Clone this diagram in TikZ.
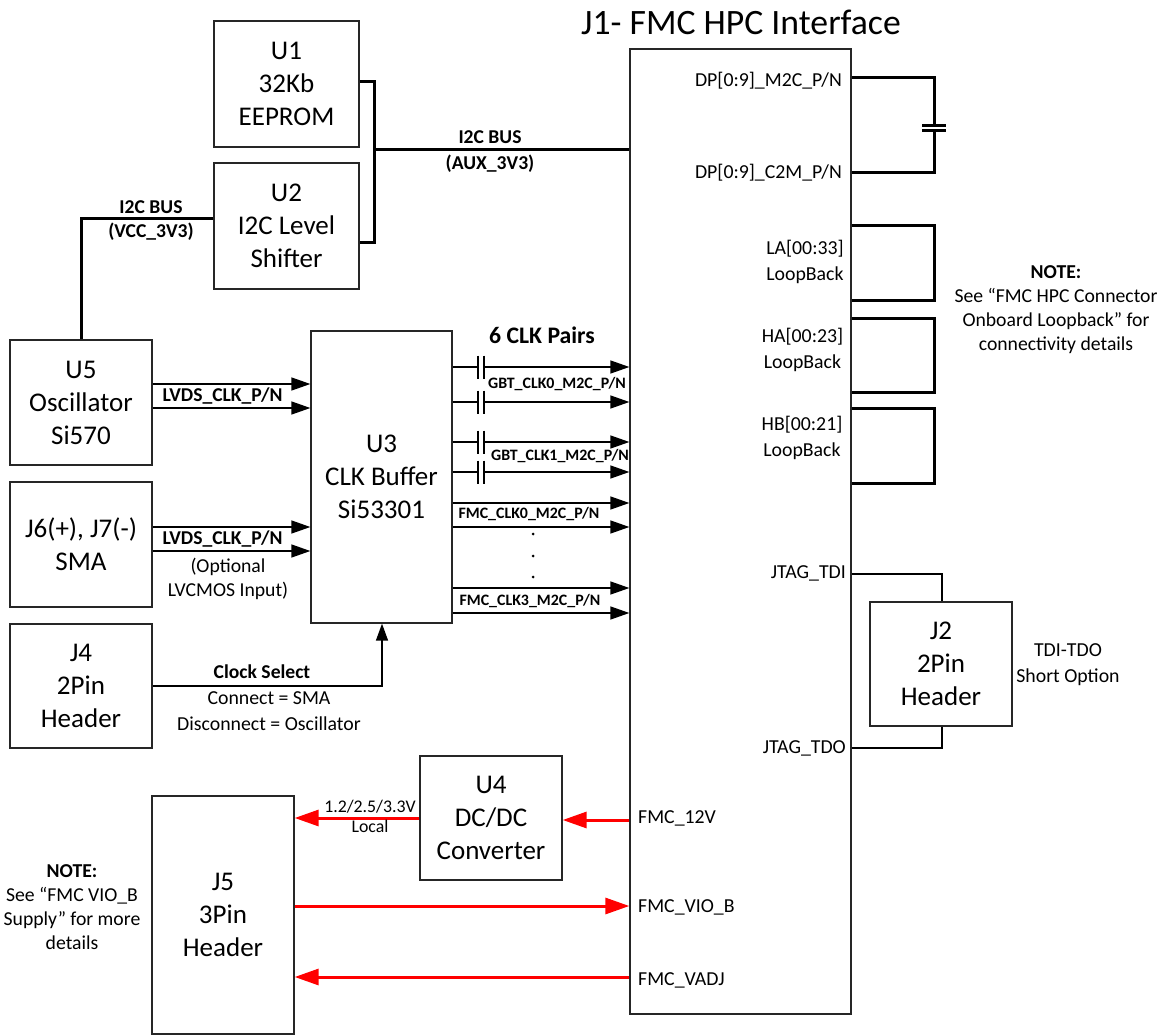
\documentclass[tikz,border=0pt]{standalone}
\usepackage{fontspec}
\setmainfont{Carlito}
\usetikzlibrary{arrows.meta}
\tikzset{
  box/.style={draw=black!85, line width=1.3pt, align=center, inner sep=0pt, font=\fontsize{27}{33}\selectfont},
  lbl/.style={inner sep=0pt, align=center, font=\fontsize{19.7}{24}\selectfont},
  pin/.style={inner sep=0pt, align=center, font=\fontsize{19.8}{26}\selectfont},
  tag/.style={inner sep=0pt, align=center, font=\fontsize{19.6}{19.6}\selectfont\bfseries},
  clktag/.style={inner sep=0pt, font=\fontsize{15.9}{15.9}\selectfont\bfseries},
  sig/.style={line width=1.4pt, -{Triangle[length=19pt, width=13pt]}},
  bus/.style={line width=3pt},
  pwr/.style={line width=3pt, red, -{Triangle[length=24pt, width=16pt]}},
  plate/.style={line width=1.4pt}
}
\begin{document}
\begin{tikzpicture}[x=1pt, y=-1pt]
    \useasboundingbox (0, 0) rectangle (1167, 1035);
    \node[box, minimum width=145pt, minimum height=126pt] (u1) at (286.5, 84) {U1\\32Kb\\EEPROM};
    \node[box, minimum width=145pt, minimum height=126pt] (u2) at (286.5, 226) {U2\\I2C Level\\Shifter};
    \node[box, minimum width=142pt, minimum height=125pt] (u5) at (81, 402.5) {U5\\Oscillator\\Si570};
    \node[box, minimum width=142pt, minimum height=125pt] (j6) at (81, 544.5) {J6(+), J7(-)\\SMA};
    \node[box, minimum width=142pt, minimum height=124pt] (j4) at (81, 686) {J4\\2Pin\\Header};
    \node[box, minimum width=141pt, minimum height=292pt] (u3) at (381.5, 477) {U3\\CLK Buffer\\Si53301};
    \node[box, minimum width=142pt, minimum height=124pt] (u4) at (491, 818) {U4\\DC/DC\\Converter};
    \node[box, minimum width=142pt, minimum height=238pt] (j5) at (223, 915) {J5\\3Pin\\Header};
    \node[box, minimum width=221pt, minimum height=965pt] (j1) at (740.5, 531.5) {};
    \node[box, minimum width=142pt, minimum height=124pt] (j2) at (941, 664) {J2\\2Pin\\Header};
    \node[inner sep=0pt, font=\fontsize{35.7}{35.7}\selectfont] (title) at (741, 22) {J1- FMC HPC Interface};

    % I2C buses
    \draw[bus] (u1.east |- 0, 82) -- (374, 82) -- (374, 242) -- (u2.east |- 0, 242);
    \draw[bus] (374, 150) -- (j1.west |- 0, 150);
    \draw[bus] (u5.north) |- (u2.west |- 0, 219);
    \node[tag] (auxbus) at (490, 152) {I2C BUS\\[6.4pt](AUX\_3V3)};
    \node[tag] (vccbus) at (151, 221) {I2C BUS\\[4.4pt](VCC\_3V3)};

    % clocks into the buffer
    \foreach \y in {384, 408} {
      \draw[sig] (u5.east |- 0, \y) -- (u3.west |- 0, \y);
      }
    \foreach \y in {527, 551} {
      \draw[sig] (j6.east |- 0, \y) -- (u3.west |- 0, \y);
      }
    \node[tag] (lvdsa) at (222.5, 396) {LVDS\_CLK\_P/N};
    \node[tag] (lvdsb) at (222.5, 539) {LVDS\_CLK\_P/N};
    \node[lbl] (lvcmos) at (228, 579) {(Optional\\LVCMOS Input)};
    \draw[line width=1.4pt, -{Triangle[length=17pt, width=12pt]}] (j4.east) -| (u3.south -| 382, 0);
    \node[tag] (clksel) at (262, 672) {Clock Select};
    \node[pin] (clkopt) at (269, 711) {Connect = SMA\\Disconnect = Oscillator};

    % clocks out of the buffer
    \foreach \y in {367, 402, 442, 472, 503, 527, 588, 613} {
      \draw[sig] (u3.east |- 0, \y) -- (j1.west |- 0, \y);
      }
    \foreach \y in {367, 402, 442, 472} {
      \fill[white] (478, \y-2) rectangle (484, \y+2);
      \draw[plate] (478, \y-11.5) -- (478, \y+11.5);
      \draw[plate] (484, \y-11.5) -- (484, \y+11.5);
      }
    \node[inner sep=0pt, font=\fontsize{23.7}{23.7}\selectfont\bfseries] (pairs) at (542, 335) {6 CLK Pairs};
    \node[clktag] (gbta) at (557, 384) {GBT\_CLK0\_M2C\_P/N};
    \node[clktag] (gbtb) at (560, 456) {GBT\_CLK1\_M2C\_P/N};
    \node[clktag] (fmca) at (529, 514) {FMC\_CLK0\_M2C\_P/N};
    \node[clktag] (fmcb) at (530, 601) {FMC\_CLK3\_M2C\_P/N};
    \foreach \y in {534, 556, 577} {
      \fill (533, \y) circle (1.5);
      }

    % pins of the connector
    \node[pin, anchor=east] (dpa) at (842, 81) {DP[0:9]\_M2C\_P/N};
    \node[pin, anchor=east] (dpb) at (842, 173) {DP[0:9]\_C2M\_P/N};
    \node[pin] (la) at (805, 262) {LA[00:33]\\LoopBack};
    \node[pin] (ha) at (802.5, 350) {HA[00:23]\\LoopBack};
    \node[pin] (hb) at (802, 438) {HB[00:21]\\LoopBack};
    \node[pin, anchor=east] (tdi) at (846, 573) {JTAG\_TDI};
    \node[pin, anchor=east] (tdo) at (846, 748) {JTAG\_TDO};
    \node[pin, anchor=west] (v12) at (638, 818) {FMC\_12V};
    \node[pin, anchor=west] (vio) at (638, 907) {FMC\_VIO\_B};
    \node[pin, anchor=west] (vadj) at (638, 980) {FMC\_VADJ};

    % loopbacks
    \draw[bus] (j1.east |- 0, 78) -- (934, 78) -- (934, 126);
    \draw[bus] (j1.east |- 0, 173) -- (934, 173) -- (934, 131);
    \draw[bus] (922, 126) -- (946, 126);
    \draw[bus] (922, 131) -- (946, 131);
    \foreach \a/\b in {226/300, 318/392, 408/483} {
      \draw[bus] (j1.east |- 0, \a) -- (934, \a) -- (934, \b) -- (j1.east |- 0, \b);
      }
    \draw[line width=1.3pt] (j1.east |- 0, 574) -| (j2.north -| 942, 0);
    \draw[line width=1.3pt] (j1.east |- 0, 748) -| (j2.south -| 942, 0);

    % power
    \draw[pwr] (u4.west) -- (j5.east |- u4.west);
    \draw[pwr] (j1.west |- 0, 820) -- (u4.east |- 0, 820);
    \draw[pwr] (j5.east |- 0, 906) -- (j1.west |- 0, 906);
    \draw[pwr] (j1.west |- 0, 977) -- (j5.east |- 0, 977);
    \node[inner sep=0pt, align=center, font=\fontsize{17.8}{20}\selectfont] (vlocal) at (370, 816) {1.2/2.5/3.3V\\Local};

    % notes
    \node[lbl] (noter) at (1056, 310) {\textbf{NOTE:}\\See “FMC HPC Connector\\Onboard Loopback” for\\connectivity details};
    \node[lbl] (notel) at (72, 907.5) {\textbf{NOTE:}\\See “FMC VIO\_B\\Supply” for more\\details};
    \node[pin] (short) at (1068, 665) {TDI-TDO\\Short Option};
  \end{tikzpicture}
\end{document}
